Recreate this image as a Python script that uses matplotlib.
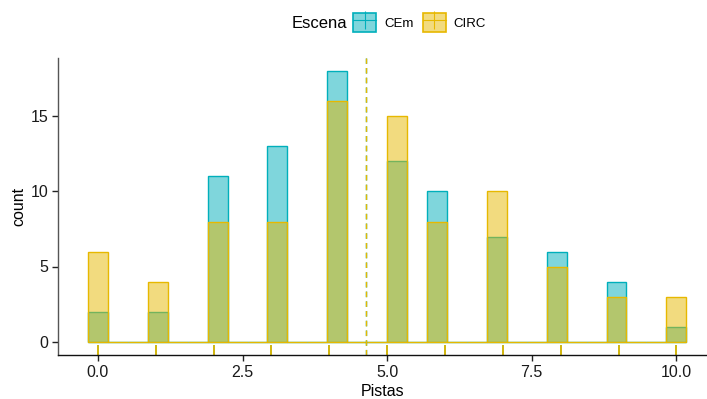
import numpy as np
import matplotlib.pyplot as plt
from matplotlib.patches import Patch
from matplotlib.lines import Line2D

plt.rcParams['font.family'] = ['Liberation Sans', 'DejaVu Sans']

pistas = [0, 1, 2, 3, 4, 5, 6, 7, 8, 9, 10]
cem_counts = [2, 2, 11, 13, 18, 12, 10, 7, 6, 4, 1]
circ_counts = [6, 4, 8, 8, 16, 15, 8, 10, 5, 3, 3]
groups = ["CEm", "CIRC"]
colors = {"CEm": "#00AFBB", "CIRC": "#E7B800"}

data = {
    "CEm": np.repeat(pistas, cem_counts),
    "CIRC": np.repeat(pistas, circ_counts),
}

# ggplot default: 30 bins across the data range
lo, hi = min(pistas), max(pistas)
bw = (hi - lo) / 29
bins = np.linspace(lo - bw / 2, hi + bw / 2, 31)

fig = plt.figure(figsize=(7.07, 3.99), dpi=100)
ax = fig.add_axes([58 / 707, 44 / 399, 649 / 707, 297 / 399])

for g in groups:
    c = colors[g]
    ax.hist(data[g], bins=bins, facecolor=c, alpha=0.5, edgecolor="none")
    ax.hist(data[g], bins=bins, histtype="bar", facecolor="none",
            edgecolor=c, linewidth=1.0)

for g in groups:
    c = colors[g]
    # rug along bottom (last group ends up on top)
    for x in np.unique(data[g]):
        ax.plot([x, x], [0, 0.03], color=c, lw=1.3,
                transform=ax.get_xaxis_transform(), clip_on=False)
    ax.axvline(data[g].mean(), color=c, linestyle=(0, (4, 3)), lw=1.0)

ax.set_xlim(-0.69, 10.53)
ax.set_ylim(-0.9, 18.9)
ax.set_xticks([0, 2.5, 5, 7.5, 10])
ax.set_xticklabels(["0.0", "2.5", "5.0", "7.5", "10.0"])
ax.set_yticks([0, 5, 10, 15])
for s in ["top", "right"]:
    ax.spines[s].set_visible(False)
ax.spines["left"].set_linewidth(1.0)
ax.spines["left"].set_color("#555555")
ax.spines["bottom"].set_linewidth(1.0)
ax.spines["bottom"].set_color("#111111")
ax.tick_params(direction="out", length=4, width=1.0, color="#222222",
               labelsize=11.5, labelcolor="#1a1a1a", pad=3)
ax.set_xlabel("Pistas", fontsize=11.5, labelpad=3)
ax.set_ylabel("count", fontsize=11.5, labelpad=3)

handles = []
for g in groups:
    c = colors[g]
    p = Patch(facecolor=c, alpha=0.5, edgecolor="none")
    pe = Patch(facecolor="none", edgecolor=c, linewidth=1.2)
    hl = Line2D([], [], color=c, lw=0.8)
    vl = Line2D([], [], color=c, lw=0, marker="|", markersize=13,
                markeredgewidth=0.8)
    handles.append((p, pe, hl, vl))

fig.text(292 / 707, 1 - 23 / 399, "Escena", fontsize=12, va="center", ha="left")
fig.legend(handles, groups, loc="center left",
           bbox_to_anchor=(353 / 707, 1 - 22.5 / 399), ncol=2, frameon=False,
           fontsize=9.5, handlelength=1.75, handleheight=1.75, handletextpad=0.6,
           columnspacing=0.7, borderpad=0, borderaxespad=0)

fig.savefig("out.png", dpi=100)
